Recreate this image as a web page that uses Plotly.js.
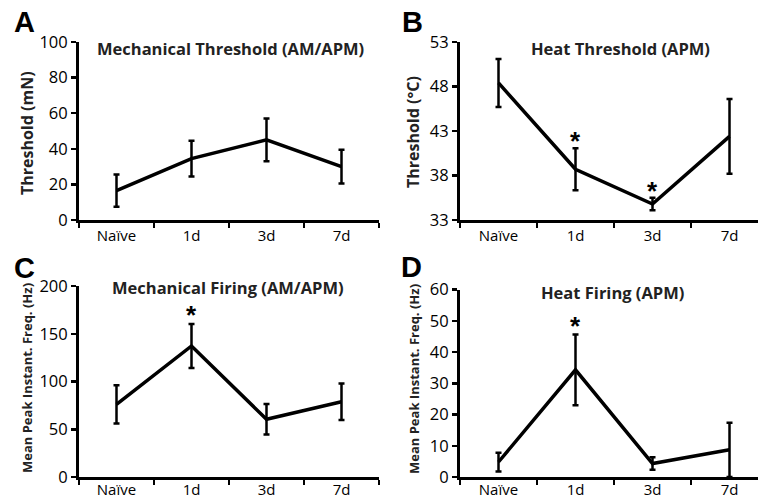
<!DOCTYPE html>
<html>
<head>
<meta charset="utf-8">
<script src="https://cdn.plot.ly/plotly-3.0.1.min.js"></script>
<style>html,body{margin:0;padding:0;background:#fff;}#chart{width:758px;height:502px;}</style>
</head>
<body>
<div id="chart"></div>
<script>
// ---- data ----
const categories = ["Naïve", "1d", "3d", "7d"];

const mechThreshold    = [16.5, 34.5, 45.0, 30.0];
const mechThresholdErr = [9.0, 10.0, 12.0, 9.5];

const heatThreshold    = [48.4, 38.7, 34.8, 42.4];
const heatThresholdErr = [2.7, 2.35, 0.7, 4.2];

const mechFiring    = [76.1, 137.2, 60.4, 78.8];
const mechFiringErr = [20.0, 23.0, 16.0, 19.0];

const heatFiring    = [4.8, 34.3, 4.3, 8.7];
const heatFiringErr = [3.0, 11.3, 2.0, 8.7];

const panelTitles = ["Mechanical Threshold (AM/APM)", "Heat Threshold (APM)", "Mechanical Firing (AM/APM)", "Heat Firing (APM)"];
const yTitles = ["Threshold (mN)", "Threshold (°C)", "Mean Peak Instant. Freq. (Hz)", "Mean Peak Instant. Freq. (Hz)"];
const panelLetters = ["A", "B", "C", "D"];

// significance markers: [panel axis suffix, category, y value]
const stars = [["2", "1d", 42.4], ["2", "3d", 36.8], ["3", "1d", 175], ["4", "1d", 50]];

// ---- layout helpers ----
const W = 758, H = 502;
const px = v => v / W;
const py = v => 1 - v / H;

function trace(y, err, n) {
  return {
    type: "scatter", mode: "lines", x: categories, y: y,
    xaxis: "x" + (n === 1 ? "" : n), yaxis: "y" + (n === 1 ? "" : n),
    line: {color: "#000", width: 3.5},
    error_y: {type: "data", array: err, visible: true, color: "#000", thickness: 2.5, width: 3},
    showlegend: false, hoverinfo: "skip"
  };
}

const xTickFont = {family: "Open Sans, sans-serif", size: 15, color: "#000"};
const yTickFont = {family: "Open Sans, sans-serif", size: 16.5, color: "#000"};

function xAxis(domain, range, anchor, standoff) {
  return {
    domain: domain, range: range, anchor: anchor, type: "category",
    showline: true, linecolor: "#000", linewidth: 3,
    ticks: "outside", tickson: "boundaries", ticklen: 5, tickwidth: 2.5, tickcolor: "#000",
    ticklabelstandoff: standoff,
    showgrid: false, zeroline: false, tickfont: xTickFont, fixedrange: true
  };
}
function yAxis(domain, range, dtick, anchor) {
  return {
    domain: domain, range: range, anchor: anchor, dtick: dtick, tick0: range[0],
    showline: true, linecolor: "#000", linewidth: 3,
    ticks: "outside", ticklen: 5, tickwidth: 2.5, tickcolor: "#000",
    showgrid: false, zeroline: false, tickfont: yTickFont, fixedrange: true
  };
}

const leftX = [px(79), px(379)];
const rightX = [px(460), 1];
const topY = [py(220), py(42)];
const botY = [py(477), py(286)];
const botYD = [py(477), py(289.5)];

const data = [
  trace(mechThreshold, mechThresholdErr, 1),
  trace(heatThreshold, heatThresholdErr, 2),
  trace(mechFiring, mechFiringErr, 3),
  trace(heatFiring, heatFiringErr, 4)
];

const annotations = [];
const titlePos = [[230, 48], [620, 48], [228, 287], [612, 292]];
const yTitlePos = [[27, 133, 16], [413, 132, 16], [27, 378, 13], [414, 379, 13]];
const letterPos = [[24, 22], [412, 22], [24, 268], [411, 267]];
for (let i = 0; i < 4; i++) {
  annotations.push({xref: "paper", yref: "paper", x: px(titlePos[i][0]), y: py(titlePos[i][1]),
    xanchor: "center", yanchor: "middle", showarrow: false, text: "<b>" + panelTitles[i] + "</b>",
    font: {family: "Open Sans, sans-serif", size: 16.5, color: "#222"}});
  annotations.push({xref: "paper", yref: "paper", x: px(yTitlePos[i][0]), y: py(yTitlePos[i][1]),
    xanchor: "center", yanchor: "middle", showarrow: false, textangle: -90, text: "<b>" + yTitles[i] + "</b>",
    font: {family: "Open Sans, sans-serif", size: yTitlePos[i][2], color: "#222"}});
  annotations.push({xref: "paper", yref: "paper", x: px(letterPos[i][0]), y: py(letterPos[i][1]),
    xanchor: "center", yanchor: "middle", showarrow: false, text: "<b>" + panelLetters[i] + "</b>",
    font: {family: "Liberation Sans, Arial, sans-serif", size: 29, color: "#000"}});
}
stars.forEach(s => {
  annotations.push({xref: "x" + s[0], yref: "y" + s[0], x: s[1], y: s[2],
    xanchor: "center", yanchor: "middle", yshift: -5, showarrow: false, text: "<b>*</b>",
    font: {family: "Liberation Sans, Arial, sans-serif", size: 26, color: "#000"}});
});

const layout = {
  width: W, height: H, margin: {l: 0, r: 0, t: 0, b: 0},
  paper_bgcolor: "#fff", plot_bgcolor: "#fff",
  showlegend: false,
  xaxis: xAxis(leftX, [-0.5, 3.5], "y", 0),
  yaxis: yAxis(topY, [0, 100], 20, "x"),
  xaxis2: xAxis(rightX, [-0.5, 3.37], "y2", 0),
  yaxis2: yAxis(topY, [33, 53], 5, "x2"),
  xaxis3: xAxis(leftX, [-0.5, 3.5], "y3", -3),
  yaxis3: yAxis(botY, [0, 200], 50, "x3"),
  xaxis4: xAxis(rightX, [-0.5, 3.37], "y4", -3),
  yaxis4: yAxis(botYD, [0, 60], 10, "x4"),
  annotations: annotations
};

Plotly.newPlot("chart", data, layout, {staticPlot: true, displayModeBar: false});
</script>
</body>
</html>
